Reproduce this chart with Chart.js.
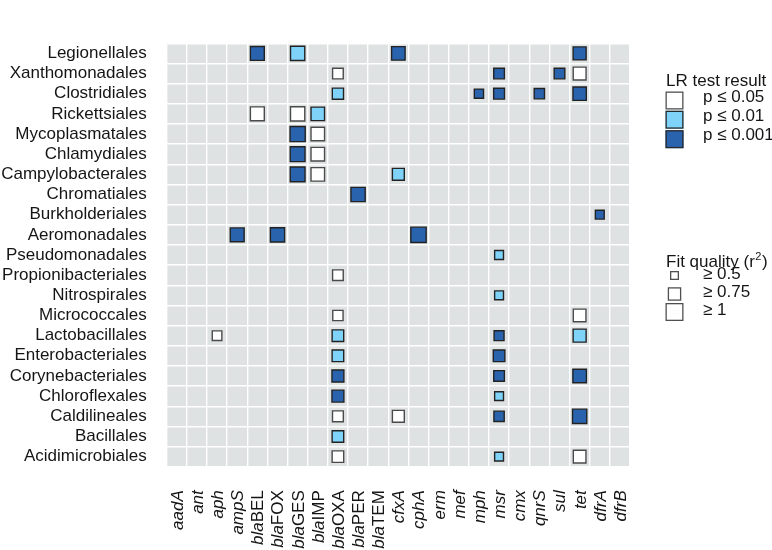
<!DOCTYPE html>
<html><head><meta charset="utf-8">
<script src="https://cdn.jsdelivr.net/npm/chart.js@4/dist/chart.umd.min.js"></script>
<style>html,body{margin:0;padding:0;background:#fff}#wrap{width:772px;height:550px}</style>
</head><body><div id="wrap"><canvas id="c" width="772" height="550"></canvas></div>
<script>
const orders = ['Legionellales','Xanthomonadales','Clostridiales','Rickettsiales','Mycoplasmatales','Chlamydiales','Campylobacterales','Chromatiales','Burkholderiales','Aeromonadales','Pseudomonadales','Propionibacteriales','Nitrospirales','Micrococcales','Lactobacillales','Enterobacteriales','Corynebacteriales','Chloroflexales','Caldilineales','Bacillales','Acidimicrobiales'];
const genes = ['aadA','ant','aph','ampS','blaBEL','blaFOX','blaGES','blaIMP','blaOXA','blaPER','blaTEM','cfxA','cphA','erm','mef','mph','msr','cmx','qnrS','sul','tet','dfrA','dfrB'];

// significant associations: order, gene, LR-test p level, fit quality r^2
const hitOrder = ['Legionellales','Legionellales','Legionellales','Legionellales',
  'Xanthomonadales','Xanthomonadales','Xanthomonadales','Xanthomonadales',
  'Clostridiales','Clostridiales','Clostridiales','Clostridiales','Clostridiales',
  'Rickettsiales','Rickettsiales','Rickettsiales',
  'Mycoplasmatales','Mycoplasmatales',
  'Chlamydiales','Chlamydiales',
  'Campylobacterales','Campylobacterales','Campylobacterales',
  'Chromatiales','Burkholderiales',
  'Aeromonadales','Aeromonadales','Aeromonadales',
  'Pseudomonadales','Propionibacteriales','Nitrospirales',
  'Micrococcales','Micrococcales',
  'Lactobacillales','Lactobacillales','Lactobacillales','Lactobacillales',
  'Enterobacteriales','Enterobacteriales',
  'Corynebacteriales','Corynebacteriales','Corynebacteriales',
  'Chloroflexales','Chloroflexales',
  'Caldilineales','Caldilineales','Caldilineales','Caldilineales',
  'Bacillales',
  'Acidimicrobiales','Acidimicrobiales','Acidimicrobiales'];
const hitGene = ['blaBEL','blaGES','cfxA','tet',
  'blaOXA','msr','sul','tet',
  'blaOXA','mph','msr','qnrS','tet',
  'blaBEL','blaGES','blaIMP',
  'blaGES','blaIMP',
  'blaGES','blaIMP',
  'blaGES','blaIMP','cfxA',
  'blaPER','dfrA',
  'ampS','blaFOX','cphA',
  'msr','blaOXA','msr',
  'blaOXA','tet',
  'aph','blaOXA','msr','tet',
  'blaOXA','msr',
  'blaOXA','msr','tet',
  'blaOXA','msr',
  'blaOXA','cfxA','msr','tet',
  'blaOXA',
  'blaOXA','msr','tet'];
const hitP = [0.001,0.01,0.001,0.001,
  0.05,0.001,0.001,0.05,
  0.01,0.001,0.001,0.001,0.001,
  0.05,0.05,0.01,
  0.001,0.05,
  0.001,0.05,
  0.001,0.05,0.01,
  0.001,0.001,
  0.001,0.001,0.001,
  0.01,0.05,0.01,
  0.05,0.05,
  0.05,0.01,0.001,0.01,
  0.01,0.001,
  0.001,0.001,0.001,
  0.001,0.01,
  0.05,0.05,0.001,0.001,
  0.01,
  0.05,0.01,0.05];
const hitR2 = [0.85,0.87,0.83,0.80,
  0.67,0.67,0.67,0.79,
  0.70,0.59,0.68,0.65,0.82,
  0.85,0.87,0.83,
  0.92,0.83,
  0.90,0.83,
  0.90,0.83,0.74,
  0.87,0.57,
  0.85,0.87,0.93,
  0.57,0.67,0.57,
  0.65,0.78,
  0.61,0.72,0.63,0.80,
  0.72,0.72,
  0.74,0.67,0.83,
  0.74,0.57,
  0.68,0.74,0.65,0.87,
  0.72,
  0.72,0.57,0.78];

const pLevels = [0.05, 0.01, 0.001];
const pLabels = ['p \u2264 0.05', 'p \u2264 0.01', 'p \u2264 0.001'];
const fitLevels = [0.5, 0.75, 1];
const fitLabels = ['\u2265 0.5', '\u2265 0.75', '\u2265 1'];

const pColors = ['#ffffff', '#7fd3f8', '#2963ad'];
const FONT = '"Liberation Sans", Arial, Helvetica, sans-serif';
const TEXT = '#151515';
const MARK_BORDER = 1.4;
const sideFor = r2 => 18 * r2;   // outer square side in px for an r^2 value

Chart.defaults.font.family = FONT;

const datasets = pLevels.map((p, k) => ({
  label: pLabels[k],
  data: hitOrder.map((o, i) => ({ x: hitGene[i], y: o, r2: hitR2[i], p: hitP[i] })).filter(d => d.p === p),
  pointStyle: 'rect',
  backgroundColor: pColors[k],
  borderColor: k === 0 ? '#4a4a4a' : '#222222',
  borderWidth: MARK_BORDER,
  pointRadius: c => (sideFor(c.raw.r2) - MARK_BORDER) / Math.SQRT2,
}));

const panelBg = {
  id: 'panelBg',
  beforeDraw(chart) {
    const { ctx, chartArea: a } = chart;
    ctx.save();
    ctx.fillStyle = '#dee2e2';
    ctx.fillRect(a.left, a.top, a.right - a.left, a.bottom - a.top);
    ctx.restore();
  }
};

const xLabels = {
  id: 'xLabels',
  afterDraw(chart) {
    const { ctx } = chart;
    const xs = chart.scales.x;
    const top = chart.chartArea.bottom + 23.5;
    ctx.save();
    ctx.fillStyle = TEXT;
    ctx.textBaseline = 'alphabetic';
    ctx.textAlign = 'left';
    genes.forEach((g, i) => {
      const px = xs.getPixelForValue(i);
      const parts = g.startsWith('bla') ? [{ t: 'bla', it: true }, { t: g.slice(3), it: false }] : [{ t: g, it: true }];
      let w = 0;
      parts.forEach(p => { ctx.font = (p.it ? 'italic ' : '') + '17px ' + FONT; p.w = ctx.measureText(p.t).width; w += p.w; });
      ctx.save();
      ctx.translate(px + 6, top);
      ctx.rotate(-Math.PI / 2);
      let x = -w;
      parts.forEach(p => { ctx.font = (p.it ? 'italic ' : '') + '17px ' + FONT; ctx.fillText(p.t, x, 0); x += p.w; });
      ctx.restore();
    });
    ctx.restore();
  }
};

const legendPlugin = {
  id: 'customLegend',
  afterDraw(chart) {
    const { ctx, chartArea: a } = chart;
    const x0 = a.right + 35.5;
    const tx = a.right + 73;
    ctx.save();
    ctx.fillStyle = TEXT;
    ctx.font = '17px ' + FONT;
    ctx.textAlign = 'left';
    ctx.textBaseline = 'alphabetic';
    ctx.fillText('LR test result', a.right + 36, 86);
    const lrCenters = [100.5, 119.7, 139.2];
    pLevels.forEach((p, k) => {
      const cy = lrCenters[k];
      ctx.fillStyle = pColors[k];
      ctx.fillRect(x0, cy - 9, 18, 18);
      ctx.strokeStyle = k === 0 ? '#505050' : '#2a2a2a';
      ctx.lineWidth = 1.3;
      ctx.strokeRect(x0 + 0.65, cy - 9 + 0.65, 16.7, 16.7);
      ctx.fillStyle = TEXT;
      ctx.fillText(pLabels[k], tx, cy + 1);
    });
    // fit quality title with superscript
    let tx2 = a.right + 36;
    const ty = 266.5;
    const t1 = 'Fit quality (r';
    ctx.fillText(t1, tx2, ty);
    tx2 += ctx.measureText(t1).width;
    ctx.font = '11px ' + FONT;
    ctx.fillText('2', tx2 + 0.5, ty - 7);
    tx2 += ctx.measureText('2').width + 1;
    ctx.font = '17px ' + FONT;
    ctx.fillText(')', tx2, ty);
    const fitCenters = [275.5, 294, 312];
    fitLevels.forEach((f, k) => {
      const s = sideFor(f);
      const cx = x0 + 9, cy = fitCenters[k];
      ctx.fillStyle = '#ffffff';
      ctx.fillRect(cx - s / 2, cy - s / 2, s, s);
      ctx.strokeStyle = '#505050';
      ctx.lineWidth = 1.3;
      ctx.strokeRect(cx - s / 2 + 0.65, cy - s / 2 + 0.65, s - 1.3, s - 1.3);
      ctx.fillStyle = TEXT;
      ctx.fillText(fitLabels[k], tx, cy + 3);
    });
    ctx.restore();
  }
};

new Chart(document.getElementById('c'), {
  type: 'scatter',
  data: { datasets },
  options: {
    responsive: false,
    animation: false,
    events: [],
    layout: { padding: { top: 43.3, right: 142, bottom: 0, left: 0 } },
    plugins: { legend: { display: false }, tooltip: { enabled: false } },
    scales: {
      x: {
        type: 'category', labels: genes, offset: true, position: 'bottom',
        grid: { color: '#ffffff', lineWidth: 1.4, offset: true, drawTicks: false },
        border: { display: false },
        ticks: { display: false, autoSkip: false },
        afterFit(s) { s.height = 550 - 466.7; }
      },
      y: {
        type: 'category', labels: orders, offset: true, position: 'left',
        grid: { color: '#ffffff', lineWidth: 1.4, offset: true, drawTicks: false },
        border: { display: false },
        ticks: { autoSkip: false, padding: 20, color: TEXT, font: { size: 17, family: FONT } },
        afterFit(s) { s.width = 166.7; }
      }
    }
  },
  plugins: [panelBg, xLabels, legendPlugin]
});
</script>
</body></html>
